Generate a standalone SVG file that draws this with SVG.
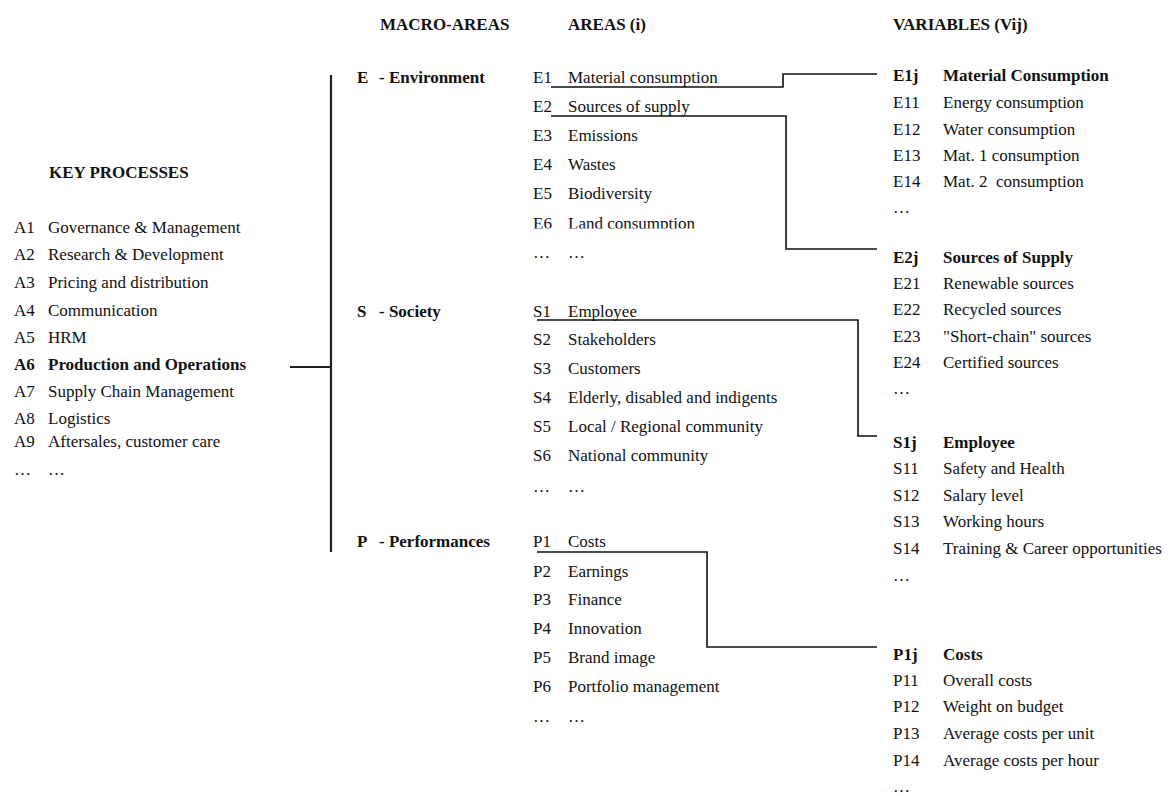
<svg xmlns="http://www.w3.org/2000/svg" width="1168" height="796" viewBox="0 0 1168 796">
<style>
  text { font-family: "Liberation Serif", "Times New Roman", serif; font-size: 17px; fill: #111; }
  .b { font-weight: bold; }
  .conn { fill: none; stroke: #111; stroke-width: 1.6; }
  .brk { fill: none; stroke: #222; stroke-width: 2.2; }
</style>
<defs>
  <clipPath id="cutE6"><rect x="520" y="200" width="300" height="28.5"/></clipPath>
</defs>
<rect width="1168" height="796" fill="#fff"/>

<g id="headers">
  <text class="b" x="380" y="30">MACRO-AREAS</text>
  <text class="b" x="568" y="30">AREAS (i)</text>
  <text class="b" x="893" y="30">VARIABLES (Vij)</text>
</g>

<g id="key-processes">
  <text class="b" x="49" y="178">KEY PROCESSES</text>
  <text x="14" y="233">A1</text><text x="48" y="233">Governance &amp; Management</text>
  <text x="14" y="260">A2</text><text x="48" y="260">Research &amp; Development</text>
  <text x="14" y="288">A3</text><text x="48" y="288">Pricing and distribution</text>
  <text x="14" y="316">A4</text><text x="48" y="316">Communication</text>
  <text x="14" y="343">A5</text><text x="48" y="343">HRM</text>
  <text class="b" x="14" y="370">A6</text><text class="b" x="48" y="370">Production and Operations</text>
  <text x="14" y="397">A7</text><text x="48" y="397">Supply Chain Management</text>
  <text x="14" y="424">A8</text><text x="48" y="424">Logistics</text>
  <text x="14" y="447">A9</text><text x="48" y="447">Aftersales, customer care</text>
  <text x="14" y="475">…</text><text x="48" y="475">…</text>
</g>

<g id="macro-areas">
  <text class="b" x="357" y="83">E</text><text class="b" x="379" y="83">- Environment</text>
  <text class="b" x="357" y="317">S</text><text class="b" x="379" y="317">- Society</text>
  <text class="b" x="357" y="547">P</text><text class="b" x="379" y="547">- Performances</text>
</g>

<g id="areas-E">
  <text x="533" y="83">E1</text><text x="568" y="83">Material consumption</text>
  <text x="533" y="112">E2</text><text x="568" y="112">Sources of supply</text>
  <text x="533" y="141">E3</text><text x="568" y="141">Emissions</text>
  <text x="533" y="170">E4</text><text x="568" y="170">Wastes</text>
  <text x="533" y="199">E5</text><text x="568" y="199">Biodiversity</text>
  <g clip-path="url(#cutE6)"><text x="533" y="229">E6</text><text x="568" y="229">Land consumption</text></g>
  <text x="533" y="258">…</text><text x="568" y="258">…</text>
</g>

<g id="areas-S">
  <text x="533" y="317">S1</text><text x="568" y="317">Employee</text>
  <text x="533" y="345">S2</text><text x="568" y="345">Stakeholders</text>
  <text x="533" y="374">S3</text><text x="568" y="374">Customers</text>
  <text x="533" y="403">S4</text><text x="568" y="403">Elderly, disabled and indigents</text>
  <text x="533" y="432">S5</text><text x="568" y="432">Local / Regional community</text>
  <text x="533" y="461">S6</text><text x="568" y="461">National community</text>
  <text x="533" y="492">…</text><text x="568" y="492">…</text>
</g>

<g id="areas-P">
  <text x="533" y="547">P1</text><text x="568" y="547">Costs</text>
  <text x="533" y="577">P2</text><text x="568" y="577">Earnings</text>
  <text x="533" y="605">P3</text><text x="568" y="605">Finance</text>
  <text x="533" y="634">P4</text><text x="568" y="634">Innovation</text>
  <text x="533" y="663">P5</text><text x="568" y="663">Brand image</text>
  <text x="533" y="692">P6</text><text x="568" y="692">Portfolio management</text>
  <text x="533" y="722">…</text><text x="568" y="722">…</text>
</g>

<g id="vars-E1j">
  <text class="b" x="893" y="81">E1j</text><text class="b" x="943" y="81">Material Consumption</text>
  <text x="893" y="108">E11</text><text x="943" y="108">Energy consumption</text>
  <text x="893" y="135">E12</text><text x="943" y="135">Water consumption</text>
  <text x="893" y="161">E13</text><text x="943" y="161">Mat. 1 consumption</text>
  <text x="893" y="187">E14</text><text x="943" y="187" xml:space="preserve">Mat. 2  consumption</text>
  <text x="893" y="213">…</text>
</g>

<g id="vars-E2j">
  <text class="b" x="893" y="263">E2j</text><text class="b" x="943" y="263">Sources of Supply</text>
  <text x="893" y="289">E21</text><text x="943" y="289">Renewable sources</text>
  <text x="893" y="315">E22</text><text x="943" y="315">Recycled sources</text>
  <text x="893" y="342">E23</text><text x="943" y="342">"Short-chain" sources</text>
  <text x="893" y="368">E24</text><text x="943" y="368">Certified sources</text>
  <text x="893" y="394">…</text>
</g>

<g id="vars-S1j">
  <text class="b" x="893" y="448">S1j</text><text class="b" x="943" y="448">Employee</text>
  <text x="893" y="474">S11</text><text x="943" y="474">Safety and Health</text>
  <text x="893" y="501">S12</text><text x="943" y="501">Salary level</text>
  <text x="893" y="527">S13</text><text x="943" y="527">Working hours</text>
  <text x="893" y="554">S14</text><text x="943" y="554">Training &amp; Career opportunities</text>
  <text x="893" y="581">…</text>
</g>

<g id="vars-P1j">
  <text class="b" x="893" y="660">P1j</text><text class="b" x="943" y="660">Costs</text>
  <text x="893" y="686">P11</text><text x="943" y="686">Overall costs</text>
  <text x="893" y="712">P12</text><text x="943" y="712">Weight on budget</text>
  <text x="893" y="739">P13</text><text x="943" y="739">Average costs per unit</text>
  <text x="893" y="766">P14</text><text x="943" y="766">Average costs per hour</text>
  <text x="893" y="792">…</text>
</g>

<g id="connectors">
  <line class="brk" x1="331" y1="75" x2="331" y2="552"/>
  <line class="brk" x1="290" y1="367" x2="331" y2="367" stroke-width="2.6"/>
  <polyline class="conn" points="551,87 783,87 783,74 877,74"/>
  <polyline class="conn" points="551,116 786,116 786,249 877,249"/>
  <polyline class="conn" points="537,320 858,320 858,436 877,436"/>
  <polyline class="conn" points="537,552 707,552 707,647 877,647"/>
</g>
</svg>
